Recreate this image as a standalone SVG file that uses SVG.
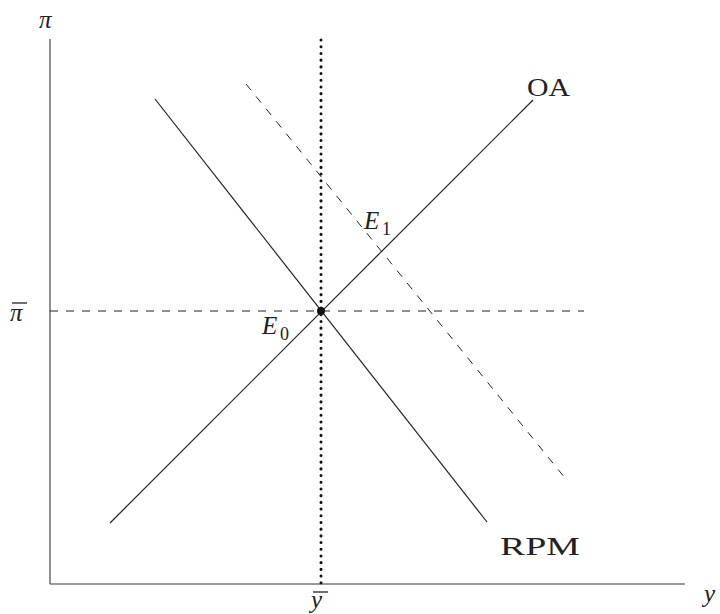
<svg xmlns="http://www.w3.org/2000/svg" width="720" height="614" viewBox="0 0 720 614">
<style>
.ax{stroke:#777;stroke-width:1.6;fill:none}
.ln{stroke:#222;stroke-width:1.2;fill:none}
.dash{stroke:#222;stroke-width:1;stroke-dasharray:8,8;fill:none}
.dot{stroke:#111;stroke-width:3;stroke-dasharray:0.1,6.6;stroke-linecap:round;fill:none}
.t{font-family:"Liberation Serif","DejaVu Serif",serif;font-size:25px;fill:#222}
.i{font-style:italic}
.s{font-size:18px;font-style:normal}
</style>
<rect width="720" height="614" fill="#fff"/>
<g id="axes">
<line class="ax" x1="50" y1="39" x2="50" y2="584"/>
<line class="ax" x1="50" y1="584" x2="685" y2="584"/>
<text class="t i" x="39" y="28">π</text>
<text class="t i" x="704" y="602">y</text>
</g>
<g id="connectors">
<line class="dash" x1="50" y1="311" x2="584" y2="311"/>
<line class="dot" x1="321" y1="40" x2="321" y2="584"/>
<line class="ln" x1="110" y1="523" x2="533" y2="100"/>
<line class="ln" x1="155" y1="99" x2="487" y2="522"/>
<line class="dash" x1="246" y1="84" x2="565" y2="478"/>
</g>
<g id="pibar"><text class="t i" x="10" y="321">π</text><line x1="12" y1="303" x2="27" y2="303" stroke="#222" stroke-width="1.3"/></g>
<g id="ybar"><text class="t i" x="311" y="608">y</text><line x1="313" y1="592" x2="328" y2="592" stroke="#222" stroke-width="1.3"/></g>
<g id="E0"><circle cx="321" cy="311" r="4" fill="#111"/><text class="t i" x="262" y="334" textLength="26">E</text><text class="t s" x="280" y="340">0</text></g>
<g id="E1"><text class="t i" x="364" y="229">E</text><text class="t s" x="382" y="235">1</text></g>
<g id="OA"><text class="t" x="527" y="96" textLength="43" lengthAdjust="spacingAndGlyphs">OA</text></g>
<g id="RPM"><text class="t" x="500" y="555" textLength="80" lengthAdjust="spacingAndGlyphs">RPM</text></g>
</svg>
